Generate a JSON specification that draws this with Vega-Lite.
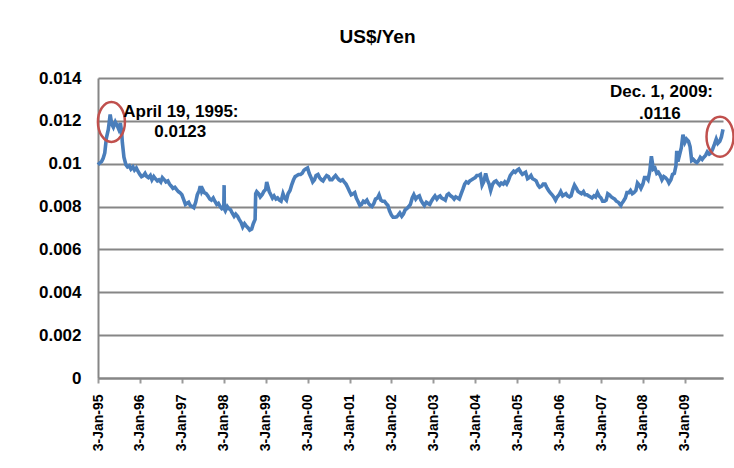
{
  "$schema": "https://vega.github.io/schema/vega-lite/v6.json",
  "autosize": "none",
  "width": 625,
  "height": 300,
  "padding": {"left": 98, "top": 78, "right": 11, "bottom": 90},
  "background": "white",
  "title": {"text": "US$/Yen", "fontSize": 19, "fontWeight": "bold", "font": "Liberation Sans", "color": "black", "anchor": "middle", "dx": -33, "offset": 22},
  "config": {
    "view": {"stroke": null},
    "font": "Liberation Sans"
  },
  "datasets": {
    "rates": [
      {"d": "1995-01-03", "v": 0.00995}, {"d": "1995-01-17", "v": 0.01003}, {"d": "1995-02-03", "v": 0.0101}, {"d": "1995-02-17", "v": 0.01025},
      {"d": "1995-03-03", "v": 0.0105}, {"d": "1995-03-17", "v": 0.0112}, {"d": "1995-04-03", "v": 0.0116}, {"d": "1995-04-19", "v": 0.0123},
      {"d": "1995-05-03", "v": 0.01185}, {"d": "1995-05-17", "v": 0.0117}, {"d": "1995-06-03", "v": 0.01195}, {"d": "1995-06-17", "v": 0.0118},
      {"d": "1995-07-03", "v": 0.0116}, {"d": "1995-07-17", "v": 0.0119}, {"d": "1995-07-28", "v": 0.0115}, {"d": "1995-08-03", "v": 0.011},
      {"d": "1995-08-17", "v": 0.0103}, {"d": "1995-09-03", "v": 0.00995}, {"d": "1995-09-17", "v": 0.00985}, {"d": "1995-10-03", "v": 0.0099},
      {"d": "1995-10-17", "v": 0.00975}, {"d": "1995-11-03", "v": 0.00985}, {"d": "1995-11-17", "v": 0.0097}, {"d": "1995-12-03", "v": 0.0098},
      {"d": "1995-12-17", "v": 0.00965},
      {"d": "1996-01-03", "v": 0.0095}, {"d": "1996-01-17", "v": 0.0094}, {"d": "1996-02-03", "v": 0.00945}, {"d": "1996-02-17", "v": 0.00955},
      {"d": "1996-03-03", "v": 0.0094}, {"d": "1996-03-17", "v": 0.00935}, {"d": "1996-04-03", "v": 0.00945}, {"d": "1996-04-17", "v": 0.00925},
      {"d": "1996-05-03", "v": 0.0094}, {"d": "1996-05-17", "v": 0.0093}, {"d": "1996-06-03", "v": 0.0092}, {"d": "1996-06-17", "v": 0.00925},
      {"d": "1996-07-03", "v": 0.00915}, {"d": "1996-07-17", "v": 0.00935}, {"d": "1996-08-03", "v": 0.00925}, {"d": "1996-08-17", "v": 0.00915},
      {"d": "1996-09-03", "v": 0.0092}, {"d": "1996-09-17", "v": 0.00905}, {"d": "1996-10-03", "v": 0.00895}, {"d": "1996-10-17", "v": 0.00885},
      {"d": "1996-11-03", "v": 0.0089}, {"d": "1996-11-17", "v": 0.0088}, {"d": "1996-12-03", "v": 0.0087}, {"d": "1996-12-17", "v": 0.00865},
      {"d": "1997-01-03", "v": 0.00855}, {"d": "1997-01-17", "v": 0.00835}, {"d": "1997-02-03", "v": 0.0081}, {"d": "1997-02-17", "v": 0.00815},
      {"d": "1997-03-03", "v": 0.0082}, {"d": "1997-03-17", "v": 0.00805}, {"d": "1997-04-03", "v": 0.008}, {"d": "1997-04-17", "v": 0.00795},
      {"d": "1997-05-03", "v": 0.0082}, {"d": "1997-05-17", "v": 0.00855}, {"d": "1997-06-03", "v": 0.00875}, {"d": "1997-06-12", "v": 0.00895},
      {"d": "1997-06-24", "v": 0.0087}, {"d": "1997-07-03", "v": 0.0088}, {"d": "1997-07-17", "v": 0.00865}, {"d": "1997-08-03", "v": 0.0086},
      {"d": "1997-08-17", "v": 0.0085}, {"d": "1997-09-03", "v": 0.00835}, {"d": "1997-09-17", "v": 0.0083}, {"d": "1997-10-03", "v": 0.0084},
      {"d": "1997-10-17", "v": 0.00825}, {"d": "1997-11-03", "v": 0.0081}, {"d": "1997-11-17", "v": 0.00815}, {"d": "1997-12-03", "v": 0.008},
      {"d": "1997-12-17", "v": 0.0079},
      {"d": "1998-01-03", "v": 0.00795}, {"d": "1998-01-06", "v": 0.009}, {"d": "1998-01-08", "v": 0.0079}, {"d": "1998-01-17", "v": 0.0078},
      {"d": "1998-02-03", "v": 0.008}, {"d": "1998-02-17", "v": 0.0079}, {"d": "1998-03-03", "v": 0.00785}, {"d": "1998-03-17", "v": 0.0077},
      {"d": "1998-04-03", "v": 0.00755}, {"d": "1998-04-17", "v": 0.00765}, {"d": "1998-05-03", "v": 0.00755}, {"d": "1998-05-17", "v": 0.0074},
      {"d": "1998-06-03", "v": 0.00725}, {"d": "1998-06-17", "v": 0.00705}, {"d": "1998-07-03", "v": 0.0072}, {"d": "1998-07-17", "v": 0.0071},
      {"d": "1998-08-03", "v": 0.007}, {"d": "1998-08-17", "v": 0.0069}, {"d": "1998-09-03", "v": 0.00695}, {"d": "1998-09-17", "v": 0.0072},
      {"d": "1998-10-03", "v": 0.0074}, {"d": "1998-10-08", "v": 0.0086}, {"d": "1998-10-17", "v": 0.0087}, {"d": "1998-11-03", "v": 0.0086},
      {"d": "1998-11-17", "v": 0.00845}, {"d": "1998-12-03", "v": 0.00855}, {"d": "1998-12-17", "v": 0.0087},
      {"d": "1999-01-03", "v": 0.0088}, {"d": "1999-01-12", "v": 0.00915}, {"d": "1999-01-24", "v": 0.0089}, {"d": "1999-02-03", "v": 0.0087},
      {"d": "1999-02-17", "v": 0.00855}, {"d": "1999-03-03", "v": 0.0084}, {"d": "1999-03-17", "v": 0.0085}, {"d": "1999-04-03", "v": 0.00835},
      {"d": "1999-04-17", "v": 0.0084}, {"d": "1999-05-03", "v": 0.0083}, {"d": "1999-05-17", "v": 0.00825}, {"d": "1999-06-03", "v": 0.0086},
      {"d": "1999-06-17", "v": 0.0084}, {"d": "1999-07-03", "v": 0.0083}, {"d": "1999-07-17", "v": 0.0086}, {"d": "1999-08-03", "v": 0.00875},
      {"d": "1999-08-17", "v": 0.009}, {"d": "1999-09-03", "v": 0.00925}, {"d": "1999-09-17", "v": 0.0094}, {"d": "1999-10-03", "v": 0.00945},
      {"d": "1999-10-17", "v": 0.0095}, {"d": "1999-11-03", "v": 0.0095}, {"d": "1999-11-17", "v": 0.00955}, {"d": "1999-12-03", "v": 0.0097},
      {"d": "1999-12-17", "v": 0.00975},
      {"d": "2000-01-03", "v": 0.0098}, {"d": "2000-01-17", "v": 0.00955}, {"d": "2000-02-03", "v": 0.00935}, {"d": "2000-02-17", "v": 0.00915},
      {"d": "2000-03-03", "v": 0.00925}, {"d": "2000-03-17", "v": 0.00945}, {"d": "2000-04-03", "v": 0.0095}, {"d": "2000-04-17", "v": 0.00935},
      {"d": "2000-05-03", "v": 0.00925}, {"d": "2000-05-17", "v": 0.0092}, {"d": "2000-06-03", "v": 0.00935}, {"d": "2000-06-17", "v": 0.00945},
      {"d": "2000-07-03", "v": 0.0094}, {"d": "2000-07-17", "v": 0.00925}, {"d": "2000-08-03", "v": 0.00925}, {"d": "2000-08-17", "v": 0.00935},
      {"d": "2000-09-03", "v": 0.00945}, {"d": "2000-09-17", "v": 0.00935}, {"d": "2000-10-03", "v": 0.00925}, {"d": "2000-10-17", "v": 0.0092},
      {"d": "2000-11-03", "v": 0.00925}, {"d": "2000-11-17", "v": 0.00915}, {"d": "2000-12-03", "v": 0.00905}, {"d": "2000-12-17", "v": 0.0089},
      {"d": "2001-01-03", "v": 0.0087}, {"d": "2001-01-17", "v": 0.00855}, {"d": "2001-02-03", "v": 0.0086}, {"d": "2001-02-17", "v": 0.00865},
      {"d": "2001-03-03", "v": 0.0084}, {"d": "2001-03-17", "v": 0.00825}, {"d": "2001-04-03", "v": 0.00805}, {"d": "2001-04-17", "v": 0.0081},
      {"d": "2001-05-03", "v": 0.00825}, {"d": "2001-05-17", "v": 0.0082}, {"d": "2001-06-03", "v": 0.0083}, {"d": "2001-06-17", "v": 0.00815},
      {"d": "2001-07-03", "v": 0.00805}, {"d": "2001-07-17", "v": 0.008}, {"d": "2001-08-03", "v": 0.00815}, {"d": "2001-08-17", "v": 0.00835},
      {"d": "2001-09-03", "v": 0.0084}, {"d": "2001-09-17", "v": 0.00855}, {"d": "2001-10-03", "v": 0.0083}, {"d": "2001-10-17", "v": 0.00825},
      {"d": "2001-11-03", "v": 0.00825}, {"d": "2001-11-17", "v": 0.00815}, {"d": "2001-12-03", "v": 0.00805}, {"d": "2001-12-17", "v": 0.0078},
      {"d": "2002-01-03", "v": 0.0076}, {"d": "2002-01-17", "v": 0.0075}, {"d": "2002-02-03", "v": 0.0075}, {"d": "2002-02-17", "v": 0.00752},
      {"d": "2002-03-03", "v": 0.0076}, {"d": "2002-03-17", "v": 0.0077}, {"d": "2002-04-03", "v": 0.00755}, {"d": "2002-04-17", "v": 0.00765},
      {"d": "2002-05-03", "v": 0.00785}, {"d": "2002-05-17", "v": 0.0079}, {"d": "2002-06-03", "v": 0.008}, {"d": "2002-06-17", "v": 0.0081},
      {"d": "2002-07-03", "v": 0.0084}, {"d": "2002-07-17", "v": 0.00855}, {"d": "2002-08-03", "v": 0.00835}, {"d": "2002-08-17", "v": 0.00845},
      {"d": "2002-09-03", "v": 0.0085}, {"d": "2002-09-17", "v": 0.0083}, {"d": "2002-10-03", "v": 0.00815}, {"d": "2002-10-17", "v": 0.00805},
      {"d": "2002-11-03", "v": 0.0082}, {"d": "2002-11-17", "v": 0.00815}, {"d": "2002-12-03", "v": 0.0081}, {"d": "2002-12-17", "v": 0.00825},
      {"d": "2003-01-03", "v": 0.0084}, {"d": "2003-01-17", "v": 0.0085}, {"d": "2003-02-03", "v": 0.00835}, {"d": "2003-02-17", "v": 0.00845},
      {"d": "2003-03-03", "v": 0.0085}, {"d": "2003-03-17", "v": 0.0084}, {"d": "2003-04-03", "v": 0.00835}, {"d": "2003-04-17", "v": 0.0083},
      {"d": "2003-05-03", "v": 0.00855}, {"d": "2003-05-17", "v": 0.0086}, {"d": "2003-06-03", "v": 0.0085}, {"d": "2003-06-17", "v": 0.00845},
      {"d": "2003-07-03", "v": 0.00835}, {"d": "2003-07-17", "v": 0.00845}, {"d": "2003-08-03", "v": 0.0084}, {"d": "2003-08-17", "v": 0.00835},
      {"d": "2003-09-03", "v": 0.0086}, {"d": "2003-09-17", "v": 0.0088}, {"d": "2003-10-03", "v": 0.00905}, {"d": "2003-10-17", "v": 0.00915},
      {"d": "2003-11-03", "v": 0.0091}, {"d": "2003-11-17", "v": 0.0092}, {"d": "2003-12-03", "v": 0.00925}, {"d": "2003-12-17", "v": 0.0093},
      {"d": "2004-01-03", "v": 0.00935}, {"d": "2004-01-17", "v": 0.00945}, {"d": "2004-02-03", "v": 0.00945}, {"d": "2004-02-17", "v": 0.0095},
      {"d": "2004-03-03", "v": 0.009}, {"d": "2004-03-17", "v": 0.00915}, {"d": "2004-04-03", "v": 0.00955}, {"d": "2004-04-17", "v": 0.00925},
      {"d": "2004-05-03", "v": 0.00905}, {"d": "2004-05-17", "v": 0.00875}, {"d": "2004-06-03", "v": 0.00905}, {"d": "2004-06-17", "v": 0.00915},
      {"d": "2004-07-03", "v": 0.0092}, {"d": "2004-07-17", "v": 0.0091}, {"d": "2004-08-03", "v": 0.009}, {"d": "2004-08-17", "v": 0.0091},
      {"d": "2004-09-03", "v": 0.00905}, {"d": "2004-09-17", "v": 0.00915}, {"d": "2004-10-03", "v": 0.00905}, {"d": "2004-10-17", "v": 0.0092},
      {"d": "2004-11-03", "v": 0.00945}, {"d": "2004-11-17", "v": 0.00955}, {"d": "2004-12-03", "v": 0.00965}, {"d": "2004-12-17", "v": 0.0096},
      {"d": "2005-01-03", "v": 0.0097}, {"d": "2005-01-17", "v": 0.00975}, {"d": "2005-02-03", "v": 0.0096}, {"d": "2005-02-17", "v": 0.0095},
      {"d": "2005-03-03", "v": 0.00955}, {"d": "2005-03-17", "v": 0.0096}, {"d": "2005-04-03", "v": 0.0093}, {"d": "2005-04-17", "v": 0.00935},
      {"d": "2005-05-03", "v": 0.00945}, {"d": "2005-05-17", "v": 0.0093}, {"d": "2005-06-03", "v": 0.00925}, {"d": "2005-06-17", "v": 0.0092},
      {"d": "2005-07-03", "v": 0.009}, {"d": "2005-07-17", "v": 0.0089}, {"d": "2005-08-03", "v": 0.00895}, {"d": "2005-08-17", "v": 0.00905},
      {"d": "2005-09-03", "v": 0.00905}, {"d": "2005-09-17", "v": 0.0089}, {"d": "2005-10-03", "v": 0.00875}, {"d": "2005-10-17", "v": 0.00865},
      {"d": "2005-11-03", "v": 0.00855}, {"d": "2005-11-17", "v": 0.00845}, {"d": "2005-12-03", "v": 0.0083}, {"d": "2005-12-17", "v": 0.00845},
      {"d": "2006-01-03", "v": 0.00855}, {"d": "2006-01-17", "v": 0.0087}, {"d": "2006-02-03", "v": 0.0085}, {"d": "2006-02-17", "v": 0.00855},
      {"d": "2006-03-03", "v": 0.0086}, {"d": "2006-03-17", "v": 0.0085}, {"d": "2006-04-03", "v": 0.00845}, {"d": "2006-04-17", "v": 0.0085},
      {"d": "2006-05-03", "v": 0.0088}, {"d": "2006-05-17", "v": 0.009}, {"d": "2006-06-03", "v": 0.00885}, {"d": "2006-06-17", "v": 0.0087},
      {"d": "2006-07-03", "v": 0.00865}, {"d": "2006-07-17", "v": 0.0086}, {"d": "2006-08-03", "v": 0.0087}, {"d": "2006-08-17", "v": 0.00855},
      {"d": "2006-09-03", "v": 0.00855}, {"d": "2006-09-17", "v": 0.0085}, {"d": "2006-10-03", "v": 0.00845}, {"d": "2006-10-17", "v": 0.0084},
      {"d": "2006-11-03", "v": 0.0085}, {"d": "2006-11-17", "v": 0.00845}, {"d": "2006-12-03", "v": 0.00865}, {"d": "2006-12-17", "v": 0.0085},
      {"d": "2007-01-03", "v": 0.0084}, {"d": "2007-01-17", "v": 0.00825}, {"d": "2007-02-03", "v": 0.00825}, {"d": "2007-02-17", "v": 0.0083},
      {"d": "2007-03-03", "v": 0.0086}, {"d": "2007-03-17", "v": 0.00855}, {"d": "2007-04-03", "v": 0.00845}, {"d": "2007-04-17", "v": 0.0084},
      {"d": "2007-05-03", "v": 0.00835}, {"d": "2007-05-17", "v": 0.00825}, {"d": "2007-06-03", "v": 0.0082}, {"d": "2007-06-17", "v": 0.0081},
      {"d": "2007-06-25", "v": 0.00805}, {"d": "2007-07-03", "v": 0.00815}, {"d": "2007-07-17", "v": 0.00825}, {"d": "2007-08-03", "v": 0.0084},
      {"d": "2007-08-17", "v": 0.00865}, {"d": "2007-09-03", "v": 0.00865}, {"d": "2007-09-17", "v": 0.00875}, {"d": "2007-10-03", "v": 0.0086},
      {"d": "2007-10-17", "v": 0.00865}, {"d": "2007-11-03", "v": 0.00875}, {"d": "2007-11-17", "v": 0.0091}, {"d": "2007-12-03", "v": 0.009},
      {"d": "2007-12-17", "v": 0.00885},
      {"d": "2008-01-03", "v": 0.00905}, {"d": "2008-01-17", "v": 0.00935}, {"d": "2008-02-03", "v": 0.00935}, {"d": "2008-02-17", "v": 0.00925},
      {"d": "2008-03-03", "v": 0.00965}, {"d": "2008-03-17", "v": 0.01035}, {"d": "2008-04-03", "v": 0.00975}, {"d": "2008-04-17", "v": 0.0098},
      {"d": "2008-05-03", "v": 0.00955}, {"d": "2008-05-17", "v": 0.0096}, {"d": "2008-06-03", "v": 0.00945}, {"d": "2008-06-17", "v": 0.00925},
      {"d": "2008-07-03", "v": 0.0094}, {"d": "2008-07-17", "v": 0.00935}, {"d": "2008-08-03", "v": 0.00925}, {"d": "2008-08-17", "v": 0.0091},
      {"d": "2008-09-03", "v": 0.00925}, {"d": "2008-09-17", "v": 0.0095}, {"d": "2008-10-03", "v": 0.00955}, {"d": "2008-10-17", "v": 0.0099},
      {"d": "2008-10-24", "v": 0.0106}, {"d": "2008-11-03", "v": 0.0101}, {"d": "2008-11-17", "v": 0.0104}, {"d": "2008-12-03", "v": 0.01075},
      {"d": "2008-12-17", "v": 0.01135},
      {"d": "2009-01-03", "v": 0.011}, {"d": "2009-01-17", "v": 0.01115}, {"d": "2009-02-03", "v": 0.01105}, {"d": "2009-02-17", "v": 0.0108},
      {"d": "2009-03-03", "v": 0.01015}, {"d": "2009-03-17", "v": 0.0102}, {"d": "2009-04-03", "v": 0.0101}, {"d": "2009-04-17", "v": 0.01005},
      {"d": "2009-05-03", "v": 0.01015}, {"d": "2009-05-17", "v": 0.0103}, {"d": "2009-06-03", "v": 0.0102}, {"d": "2009-06-17", "v": 0.0103},
      {"d": "2009-07-03", "v": 0.0104}, {"d": "2009-07-17", "v": 0.01055}, {"d": "2009-08-03", "v": 0.01045}, {"d": "2009-08-17", "v": 0.0105},
      {"d": "2009-09-03", "v": 0.0107}, {"d": "2009-09-17", "v": 0.0109}, {"d": "2009-10-03", "v": 0.01115}, {"d": "2009-10-17", "v": 0.01095},
      {"d": "2009-11-03", "v": 0.01105}, {"d": "2009-11-17", "v": 0.01125}, {"d": "2009-12-01", "v": 0.0116}
    ],
    "circles": [
      {"d": "1995-04-30", "v": 0.01195},
      {"d": "2009-11-05", "v": 0.01126}
    ],
    "notes": [
      {"d": "1996-12-25", "v": 0.01242, "label": "April 19, 1995:"},
      {"d": "1996-12-20", "v": 0.01149, "label": "0.0123"},
      {"d": "2008-06-13", "v": 0.01335, "label": "Dec. 1, 2009:"},
      {"d": "2008-05-30", "v": 0.01232, "label": ".0116"}
    ]
  },
  "encoding": {
    "x": {
      "field": "d", "type": "temporal",
      "scale": {"domain": [{"year": 1995, "month": 1, "date": 3}, {"year": 2009, "month": 12, "date": 1}]},
      "axis": {
        "title": null,
        "values": [
          {"year": 1995, "month": 1, "date": 3}, {"year": 1996, "month": 1, "date": 3}, {"year": 1997, "month": 1, "date": 3},
          {"year": 1998, "month": 1, "date": 3}, {"year": 1999, "month": 1, "date": 3}, {"year": 2000, "month": 1, "date": 3},
          {"year": 2001, "month": 1, "date": 3}, {"year": 2002, "month": 1, "date": 3}, {"year": 2003, "month": 1, "date": 3},
          {"year": 2004, "month": 1, "date": 3}, {"year": 2005, "month": 1, "date": 3}, {"year": 2006, "month": 1, "date": 3},
          {"year": 2007, "month": 1, "date": 3}, {"year": 2008, "month": 1, "date": 3}, {"year": 2009, "month": 1, "date": 3}
        ],
        "format": "%-d-%b-%y",
        "labelAngle": 270,
        "labelAlign": "right",
        "labelBaseline": "middle",
        "labelFontSize": 14,
        "labelFontWeight": "bold",
        "labelColor": "black",
        "labelFont": "Liberation Sans",
        "labelPadding": 11,
        "labelFlush": false,
        "labelOverlap": false,
        "tickSize": 5,
        "tickColor": "#9a9a9a",
        "tickWidth": 2,
        "domainColor": "#868686",
        "domainWidth": 2,
        "grid": false
      }
    },
    "y": {
      "field": "v", "type": "quantitative",
      "scale": {"domain": [0, 0.014], "nice": false},
      "axis": {
        "title": null,
        "values": [0, 0.002, 0.004, 0.006, 0.008, 0.01, 0.012, 0.014],
        "format": "~g",
        "labelFontSize": 17,
        "labelFontWeight": "bold",
        "labelColor": "black",
        "labelFont": "Liberation Sans",
        "labelPadding": 17,
        "ticks": false,
        "domainColor": "#868686",
        "domainWidth": 2,
        "grid": true,
        "gridColor": "#868686",
        "gridWidth": 2
      }
    }
  },
  "layer": [
    {
      "data": {"name": "rates"},
      "mark": {"type": "line", "color": "#4a7ebb", "strokeWidth": 3.6, "interpolate": "linear"}
    },
    {
      "data": {"name": "circles"},
      "mark": {
        "type": "point",
        "shape": "M 0.675 0 C 0.675 0.5523 0.3728 1 0 1 C -0.3728 1 -0.675 0.5523 -0.675 0 C -0.675 -0.5523 -0.3728 -1 0 -1 C 0.3728 -1 0.675 -0.5523 0.675 0 Z",
        "size": 1600,
        "filled": false,
        "stroke": "#c0504d",
        "strokeWidth": 2.5,
        "opacity": 1
      }
    },
    {
      "data": {"name": "notes"},
      "mark": {"type": "text", "fontSize": 17, "fontWeight": "bold", "font": "Liberation Sans", "color": "black", "align": "center", "baseline": "middle"},
      "encoding": {"text": {"field": "label", "type": "nominal"}}
    }
  ]
}
